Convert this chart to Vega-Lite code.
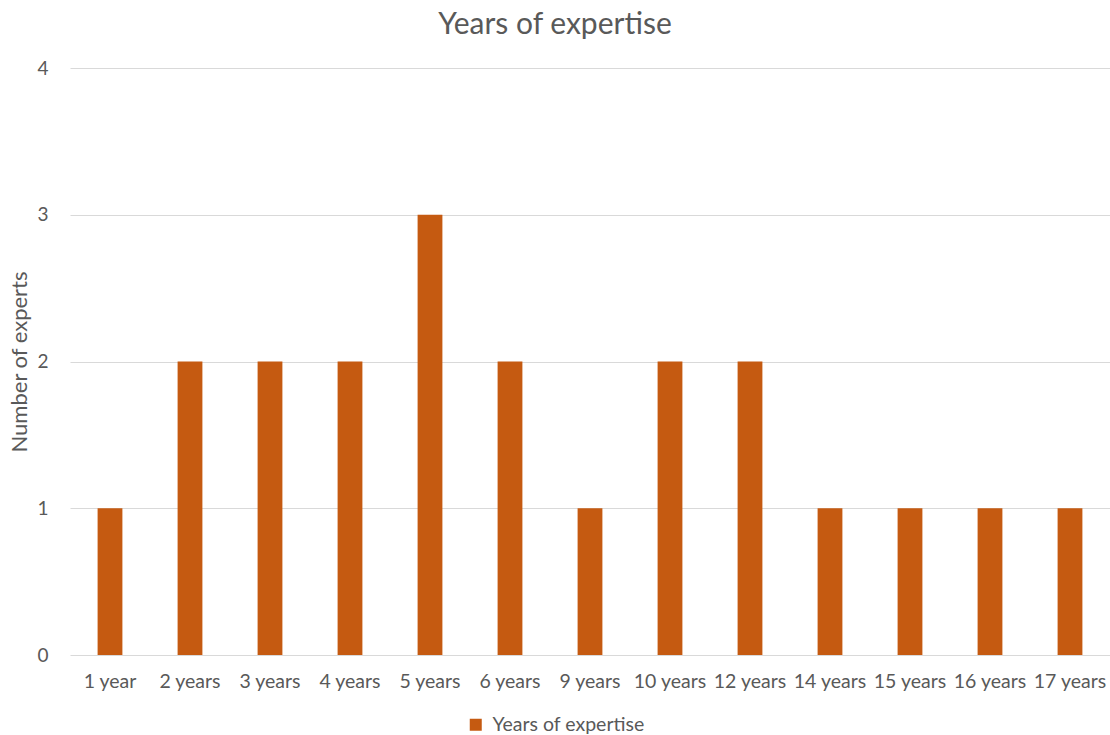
{
  "$schema": "https://vega.github.io/schema/vega-lite/v6.json",
  "autosize": "none",
  "width": 1040,
  "height": 587,
  "padding": {"left": 70, "top": 68, "right": 0, "bottom": 80},
  "background": "white",
  "title": {
    "text": "Years of expertise",
    "font": "Lato",
    "fontSize": 30,
    "fontWeight": "normal",
    "color": "#595959",
    "anchor": "middle",
    "dx": -35,
    "offset": 19
  },
  "data": {
    "values": [
      {"years": "1 year", "experts": 1, "series": "Years of expertise"},
      {"years": "2 years", "experts": 2, "series": "Years of expertise"},
      {"years": "3 years", "experts": 2, "series": "Years of expertise"},
      {"years": "4 years", "experts": 2, "series": "Years of expertise"},
      {"years": "5 years", "experts": 3, "series": "Years of expertise"},
      {"years": "6 years", "experts": 2, "series": "Years of expertise"},
      {"years": "9 years", "experts": 1, "series": "Years of expertise"},
      {"years": "10 years", "experts": 2, "series": "Years of expertise"},
      {"years": "12 years", "experts": 2, "series": "Years of expertise"},
      {"years": "14 years", "experts": 1, "series": "Years of expertise"},
      {"years": "15 years", "experts": 1, "series": "Years of expertise"},
      {"years": "16 years", "experts": 1, "series": "Years of expertise"},
      {"years": "17 years", "experts": 1, "series": "Years of expertise"}
    ]
  },
  "mark": {"type": "bar"},
  "encoding": {
    "x": {
      "field": "years",
      "type": "nominal",
      "sort": null,
      "scale": {"paddingInner": 0.69, "paddingOuter": 0.345},
      "axis": {
        "title": null,
        "labelAngle": 0,
        "labelFont": "Lato",
        "labelFontSize": 19.5,
        "labelColor": "#595959",
        "labelPadding": 17,
        "ticks": false,
        "domain": false,
        "grid": false
      }
    },
    "y": {
      "field": "experts",
      "type": "quantitative",
      "scale": {"domain": [0, 4]},
      "axis": {
        "title": "Number of experts",
        "titleFont": "Lato",
        "titleFontSize": 22,
        "titleFontWeight": "normal",
        "titleColor": "#595959",
        "titlePadding": 5,
        "values": [0, 1, 2, 3, 4],
        "format": "d",
        "labelFont": "Lato",
        "labelFontSize": 19,
        "labelColor": "#595959",
        "labelPadding": 22,
        "ticks": false,
        "domain": false,
        "grid": true,
        "gridColor": "#D9D9D9",
        "gridWidth": 1
      }
    },
    "color": {
      "field": "series",
      "type": "nominal",
      "scale": {"range": ["#C55A11"]},
      "legend": {
        "title": null,
        "orient": "none",
        "legendX": 396,
        "legendY": 647,
        "symbolType": "square",
        "symbolSize": 144,
        "symbolStrokeWidth": 0,
        "labelFont": "Lato",
        "labelFontSize": 19.5,
        "labelColor": "#595959",
        "labelOffset": 7
      }
    }
  },
  "config": {
    "view": {"stroke": null}
  }
}
